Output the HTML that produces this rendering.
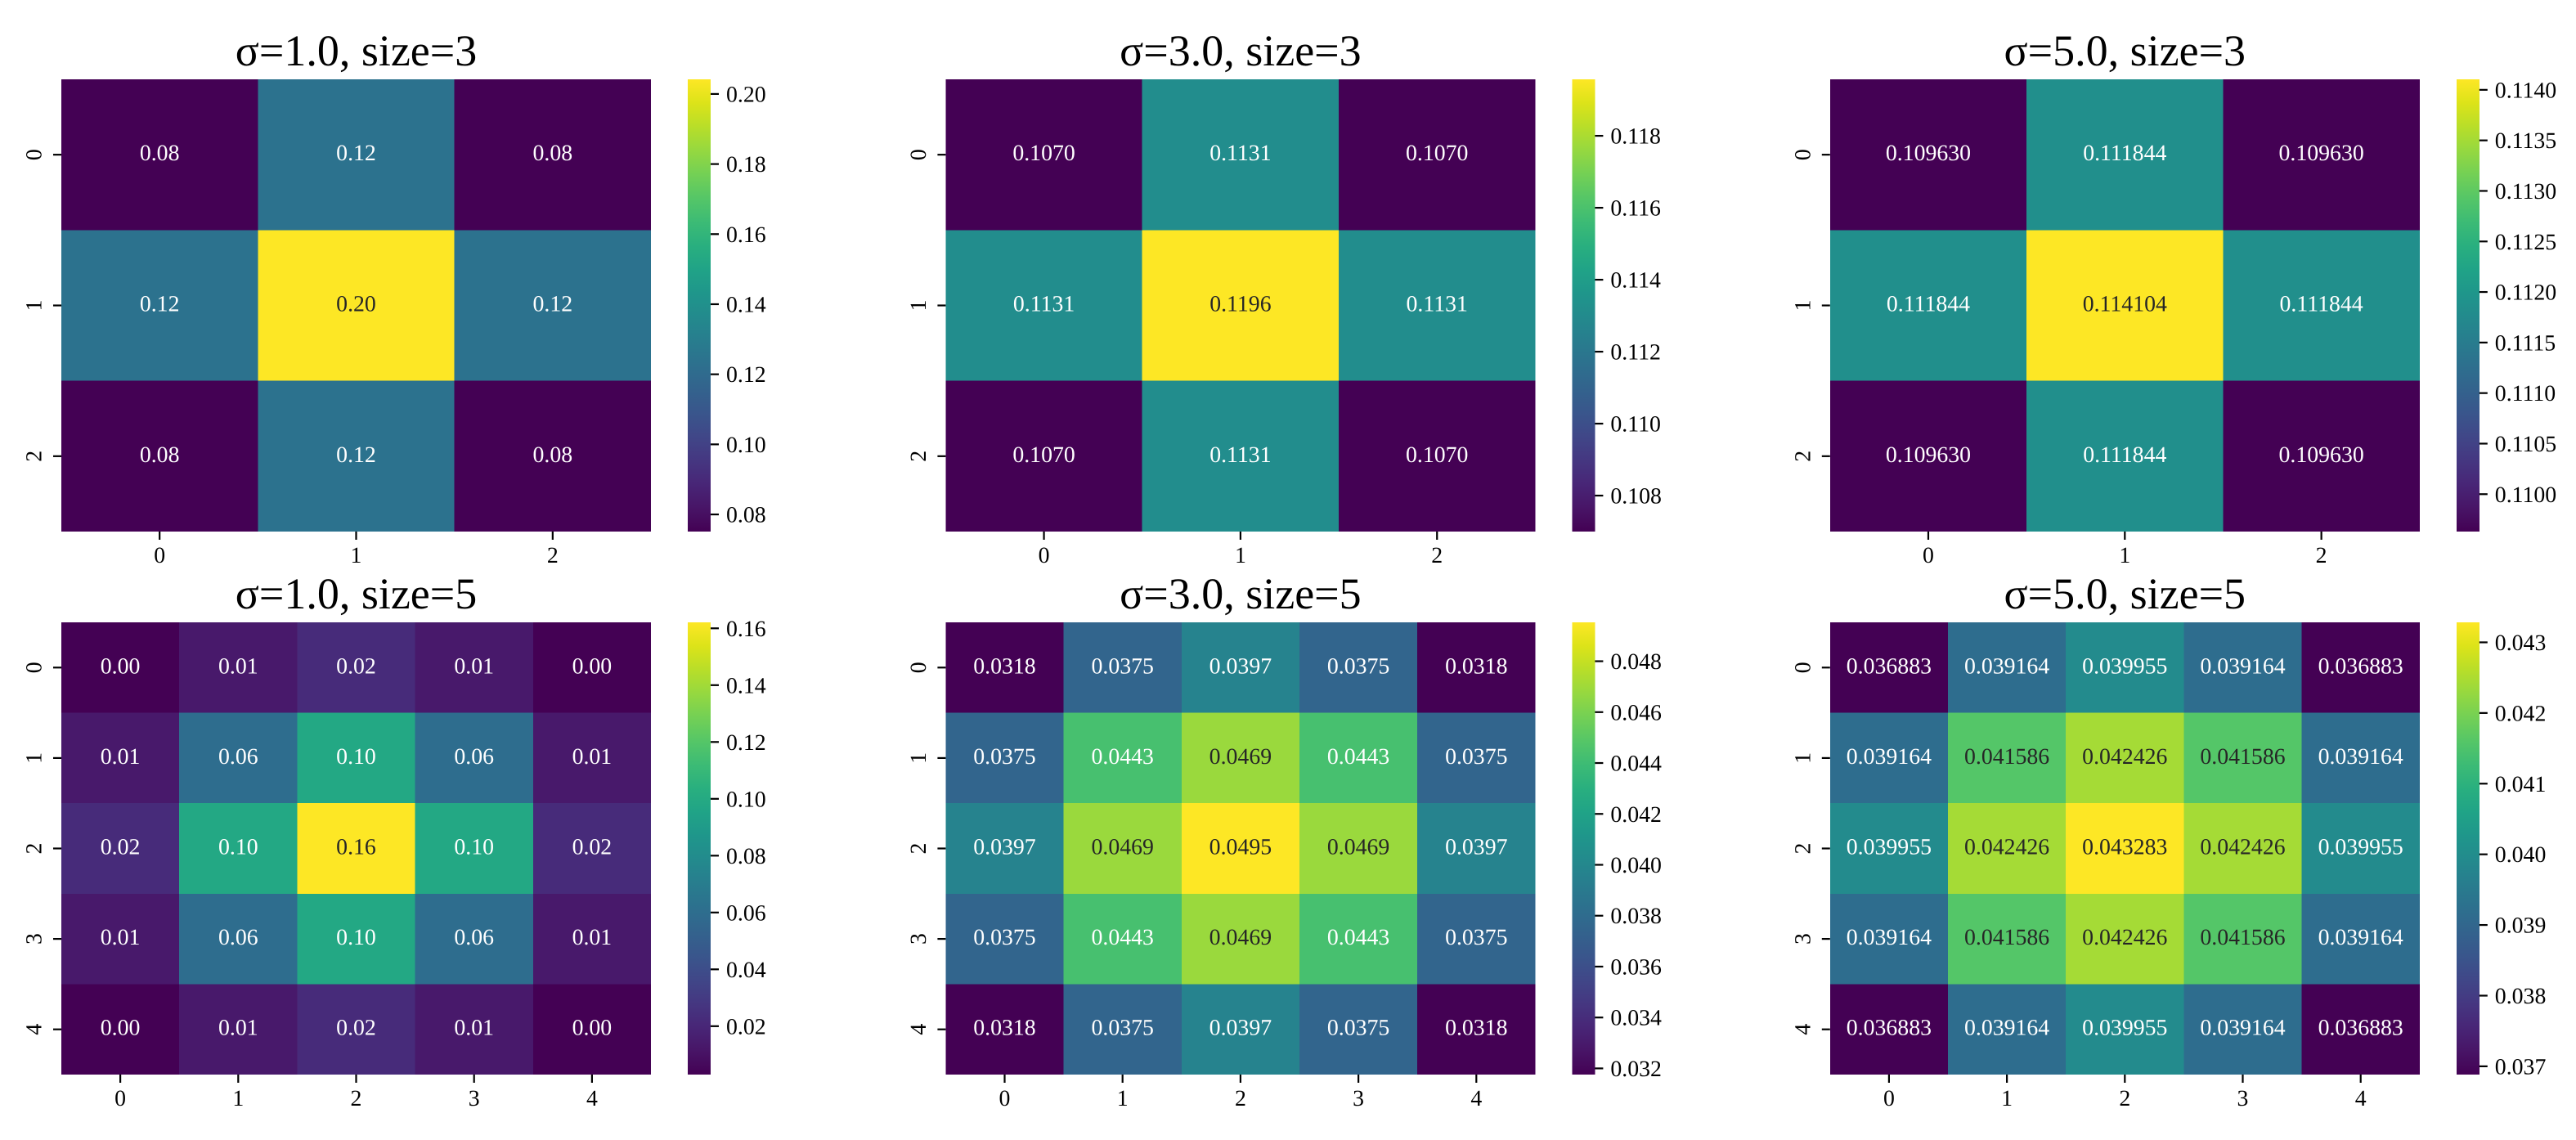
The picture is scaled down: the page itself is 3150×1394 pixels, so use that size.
<!DOCTYPE html>
<html lang="en">
<head>
<meta charset="utf-8">
<title>Gaussian kernel heatmaps</title>
<style>
  html, body { margin: 0; padding: 0; background: #fff; }
  #figure { display: block; width: 3150px; height: 1394px; font-family: "Liberation Serif", serif; text-rendering: geometricPrecision; }
</style>
</head>
<body>
<svg id="figure" xmlns="http://www.w3.org/2000/svg" width="3150" height="1394" viewBox="0 0 3150 1394"></svg>
<script>
// ---------- chart data ----------
const titleS1K3 = "σ=1.0, size=3";
const valuesS1K3 = [
  [0.07511, 0.12384, 0.07511],
  [0.12384, 0.20418, 0.12384],
  [0.07511, 0.12384, 0.07511]
];
const decimalsS1K3 = 2;
const ticksS1K3 = [0.08, 0.10, 0.12, 0.14, 0.16, 0.18, 0.20];
const tickLabelsS1K3 = ["0.08", "0.10", "0.12", "0.14", "0.16", "0.18", "0.20"];

const titleS3K3 = "σ=3.0, size=3";
const valuesS3K3 = [
  [0.10700, 0.11311, 0.10700],
  [0.11311, 0.11957, 0.11311],
  [0.10700, 0.11311, 0.10700]
];
const decimalsS3K3 = 4;
const ticksS3K3 = [0.108, 0.110, 0.112, 0.114, 0.116, 0.118];
const tickLabelsS3K3 = ["0.108", "0.110", "0.112", "0.114", "0.116", "0.118"];

const titleS5K3 = "σ=5.0, size=3";
const valuesS5K3 = [
  [0.109630, 0.111844, 0.109630],
  [0.111844, 0.114104, 0.111844],
  [0.109630, 0.111844, 0.109630]
];
const decimalsS5K3 = 6;
const ticksS5K3 = [0.1100, 0.1105, 0.1110, 0.1115, 0.1120, 0.1125, 0.1130, 0.1135, 0.1140];
const tickLabelsS5K3 = ["0.1100", "0.1105", "0.1110", "0.1115", "0.1120", "0.1125", "0.1130", "0.1135", "0.1140"];

const titleS1K5 = "σ=1.0, size=5";
const valuesS1K5 = [
  [0.00297, 0.01331, 0.02194, 0.01331, 0.00297],
  [0.01331, 0.05963, 0.09832, 0.05963, 0.01331],
  [0.02194, 0.09832, 0.16210, 0.09832, 0.02194],
  [0.01331, 0.05963, 0.09832, 0.05963, 0.01331],
  [0.00297, 0.01331, 0.02194, 0.01331, 0.00297]
];
const decimalsS1K5 = 2;
const ticksS1K5 = [0.02, 0.04, 0.06, 0.08, 0.10, 0.12, 0.14, 0.16];
const tickLabelsS1K5 = ["0.02", "0.04", "0.06", "0.08", "0.10", "0.12", "0.14", "0.16"];

const titleS3K5 = "σ=3.0, size=5";
const valuesS3K5 = [
  [0.031757, 0.037516, 0.039659, 0.037516, 0.031757],
  [0.037516, 0.044320, 0.046852, 0.044320, 0.037516],
  [0.039659, 0.046852, 0.049528, 0.046852, 0.039659],
  [0.037516, 0.044320, 0.046852, 0.044320, 0.037516],
  [0.031757, 0.037516, 0.039659, 0.037516, 0.031757]
];
const decimalsS3K5 = 4;
const ticksS3K5 = [0.032, 0.034, 0.036, 0.038, 0.040, 0.042, 0.044, 0.046, 0.048];
const tickLabelsS3K5 = ["0.032", "0.034", "0.036", "0.038", "0.040", "0.042", "0.044", "0.046", "0.048"];

const titleS5K5 = "σ=5.0, size=5";
const valuesS5K5 = [
  [0.036883, 0.039164, 0.039955, 0.039164, 0.036883],
  [0.039164, 0.041586, 0.042426, 0.041586, 0.039164],
  [0.039955, 0.042426, 0.043283, 0.042426, 0.039955],
  [0.039164, 0.041586, 0.042426, 0.041586, 0.039164],
  [0.036883, 0.039164, 0.039955, 0.039164, 0.036883]
];
const decimalsS5K5 = 6;
const ticksS5K5 = [0.037, 0.038, 0.039, 0.040, 0.041, 0.042, 0.043];
const tickLabelsS5K5 = ["0.037", "0.038", "0.039", "0.040", "0.041", "0.042", "0.043"];

// Viridis colormap anchor colours (evenly spaced)
const viridisStops = ["#440154","#481567","#482677","#453781","#404788","#39568c","#33638d","#2d708e","#287d8e","#238a8d","#1f968b","#20a387","#29af7f","#3cbb75","#55c667","#73d055","#95d840","#b8de29","#dce319","#fde725"];

// ---------- drawing ----------
const SVG_NS = "http://www.w3.org/2000/svg";
const figure = document.getElementById("figure");

const AXES_W = 721;
const AXES_H = 553;
const COLORBAR_GAP = 45;
const COLORBAR_W = 28;
const TICK_LEN = 10;
const TICK_W = 2.2;
const TICK_SIZE = 27.8;
const TITLE_SIZE = 54;

function panelLeft(col) { return 75 + col * 1081.4; }
function panelTop(row) { return 97 + row * 664; }

function hexToRgb(h) {
  return [parseInt(h.slice(1, 3), 16), parseInt(h.slice(3, 5), 16), parseInt(h.slice(5, 7), 16)];
}
function viridis(t) {
  const clamped = Math.max(0, Math.min(1, t));
  const pos = clamped * (viridisStops.length - 1);
  const i = Math.min(Math.floor(pos), viridisStops.length - 2);
  const f = pos - i;
  const a = hexToRgb(viridisStops[i]);
  const b = hexToRgb(viridisStops[i + 1]);
  return [0, 1, 2].map(function (k) { return Math.round(a[k] + (b[k] - a[k]) * f); });
}
function luminance(rgb) {
  const lin = rgb.map(function (c) {
    const v = c / 255;
    return v <= 0.03928 ? v / 12.92 : Math.pow((v + 0.055) / 1.055, 2.4);
  });
  return 0.2126 * lin[0] + 0.7152 * lin[1] + 0.0722 * lin[2];
}
function make(tag, attrs, parent) {
  const el = document.createElementNS(SVG_NS, tag);
  Object.keys(attrs).forEach(function (k) { el.setAttribute(k, attrs[k]); });
  parent.appendChild(el);
  return el;
}

function drawPanel(row, col, title, values, decimals, ticks, tickLabels) {
  const left = panelLeft(col);
  const top = panelTop(row);
  const n = values.length;
  const flat = values.reduce(function (acc, r) { return acc.concat(r); }, []);
  const vmin = Math.min.apply(null, flat);
  const vmax = Math.max.apply(null, flat);
  const norm = function (v) { return (v - vmin) / (vmax - vmin); };
  const xAt = function (i) { return left + AXES_W * i / n; };
  const yAt = function (i) { return top + AXES_H * i / n; };
  const cbLeft = left + AXES_W + COLORBAR_GAP;
  const cbY = function (v) { return top + AXES_H - norm(v) * AXES_H; };

  const group = make("g", {}, figure);
  
  

  const titleEl = make("text", { x: left + AXES_W / 2, y: top - 17, "text-anchor": "middle", "font-size": TITLE_SIZE, fill: "#000" }, group);
  titleEl.textContent = title;
  
  

  values.forEach(function (rowVals, r) {
    rowVals.forEach(function (v, c) {
      const rgb = viridis(norm(v));
      const cell = make("rect", {
        x: xAt(c), y: yAt(r),
        width: xAt(c + 1) - xAt(c), height: yAt(r + 1) - yAt(r),
        fill: "rgb(" + rgb.join(",") + ")", "shape-rendering": "crispEdges"
      }, group);
      
      

      const label = make("text", {
        x: (xAt(c) + xAt(c + 1)) / 2, y: (yAt(r) + yAt(r + 1)) / 2 + 7,
        "text-anchor": "middle", "font-size": TICK_SIZE,
        fill: luminance(rgb) > 0.408 ? "#262626" : "#ffffff"
      }, group);
      label.textContent = v.toFixed(decimals);
      
      
    });
  });

  for (let i = 0; i < n; i++) {
    const xc = (xAt(i) + xAt(i + 1)) / 2;
    const yc = (yAt(i) + yAt(i + 1)) / 2;

    const xTick = make("line", { x1: xc, x2: xc, y1: top + AXES_H, y2: top + AXES_H + TICK_LEN, stroke: "#000", "stroke-width": TICK_W }, group);
    
    

    const xLabel = make("text", { x: xc, y: top + AXES_H + 38, "text-anchor": "middle", "font-size": TICK_SIZE, fill: "#000" }, group);
    xLabel.textContent = String(i);
    
    

    const yTick = make("line", { x1: left - TICK_LEN, x2: left, y1: yc, y2: yc, stroke: "#000", "stroke-width": TICK_W }, group);
    
    

    const yLabel = make("text", {
      x: 0, y: 0, transform: "translate(" + (left - 24.5) + " " + yc + ") rotate(-90)",
      "text-anchor": "middle", "font-size": TICK_SIZE, fill: "#000"
    }, group);
    yLabel.textContent = String(i);
    
    
  }

  const gradId = "cbar-" + row + "-" + col;
  const defs = make("defs", {}, group);
  const grad = make("linearGradient", { id: gradId, x1: 0, y1: 1, x2: 0, y2: 0 }, defs);
  viridisStops.forEach(function (color, i) {
    make("stop", { offset: i / (viridisStops.length - 1), "stop-color": color }, grad);
  });
  const bar = make("rect", { x: cbLeft, y: top, width: COLORBAR_W, height: AXES_H, fill: "url(#" + gradId + ")", "shape-rendering": "crispEdges" }, group);
  
  

  ticks.forEach(function (t, i) {
    const y = cbY(t);
    const tick = make("line", { x1: cbLeft + COLORBAR_W, x2: cbLeft + COLORBAR_W + TICK_LEN, y1: y, y2: y, stroke: "#000", "stroke-width": TICK_W }, group);
    
    

    const label = make("text", { x: cbLeft + COLORBAR_W + 19, y: y + 9.5, "font-size": TICK_SIZE, fill: "#000" }, group);
    label.textContent = tickLabels[i];
    
    
  });
}

drawPanel(0, 0, titleS1K3, valuesS1K3, decimalsS1K3, ticksS1K3, tickLabelsS1K3);
drawPanel(0, 1, titleS3K3, valuesS3K3, decimalsS3K3, ticksS3K3, tickLabelsS3K3);
drawPanel(0, 2, titleS5K3, valuesS5K3, decimalsS5K3, ticksS5K3, tickLabelsS5K3);
drawPanel(1, 0, titleS1K5, valuesS1K5, decimalsS1K5, ticksS1K5, tickLabelsS1K5);
drawPanel(1, 1, titleS3K5, valuesS3K5, decimalsS3K5, ticksS3K5, tickLabelsS3K5);
drawPanel(1, 2, titleS5K5, valuesS5K5, decimalsS5K5, ticksS5K5, tickLabelsS5K5);
</script>
</body>
</html>
